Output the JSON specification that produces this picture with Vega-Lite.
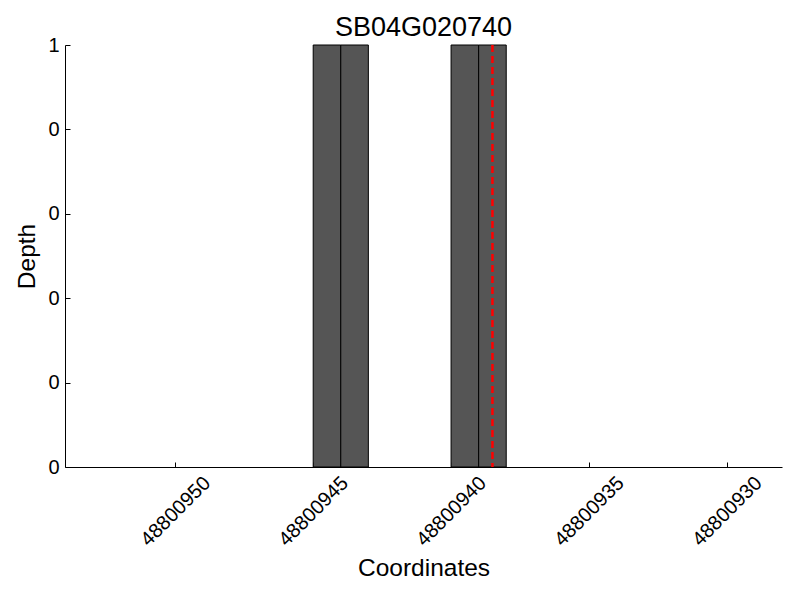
{
  "$schema": "https://vega.github.io/schema/vega-lite/v6.json",
  "autosize": {"type": "none"},
  "padding": {"left": 65, "top": 45, "right": 18, "bottom": 133},
  "width": 717,
  "height": 422,
  "background": "white",
  "config": {
    "font": "Liberation Sans",
    "view": {"stroke": null},
    "axis": {"grid": false, "domainColor": "black", "tickColor": "black", "labelColor": "black", "titleColor": "black", "labelFont": "Liberation Sans", "titleFont": "Liberation Sans", "titleFontWeight": "normal"}
  },
  "title": {"text": "SB04G020740", "fontSize": 27, "fontWeight": "normal", "font": "Liberation Sans", "color": "black", "anchor": "middle", "offset": -7},
  "layer": [
    {
      "data": {"values": [
        {"start": 48800945, "end": 48800944, "depth": 1},
        {"start": 48800944, "end": 48800943, "depth": 1},
        {"start": 48800940, "end": 48800939, "depth": 1},
        {"start": 48800939, "end": 48800938, "depth": 1}
      ]},
      "mark": {"type": "rect", "fill": "#555555", "stroke": "black", "strokeWidth": 1},
      "encoding": {
        "x": {"field": "start", "type": "quantitative",
          "scale": {"domain": [48800928, 48800954], "reverse": true, "nice": false, "zero": false},
          "axis": {"title": "Coordinates", "values": [48800950, 48800945, 48800940, 48800935, 48800930], "format": "d",
            "labelAngle": -45, "labelAlign": "center", "labelBaseline": "middle", "labelFontSize": 20,
            "tickSize": -5, "labelPadding": 49, "titleFontSize": 24.5, "titleY": 101, "titleBaseline": "middle"}},
        "x2": {"field": "end"},
        "y": {"field": "depth", "type": "quantitative",
          "scale": {"domain": [0, 1], "nice": false, "padding": 0},
          "axis": {"title": "Depth", "values": [0, 0.2, 0.4, 0.6, 0.8, 1], "labelExpr": "floor(datum.value)",
            "labelFontSize": 20, "tickSize": -5, "labelPadding": 11, "titleFontSize": 24.5, "titleX": -38, "titleBaseline": "middle"}},
        "y2": {"datum": 0}
      }
    },
    {
      "data": {"values": [{"pos": 48800938.5}]},
      "mark": {"type": "rule", "color": "red", "strokeWidth": 2.5, "strokeDash": [7, 4]},
      "encoding": {
        "x": {"field": "pos", "type": "quantitative"}
      }
    }
  ]
}
